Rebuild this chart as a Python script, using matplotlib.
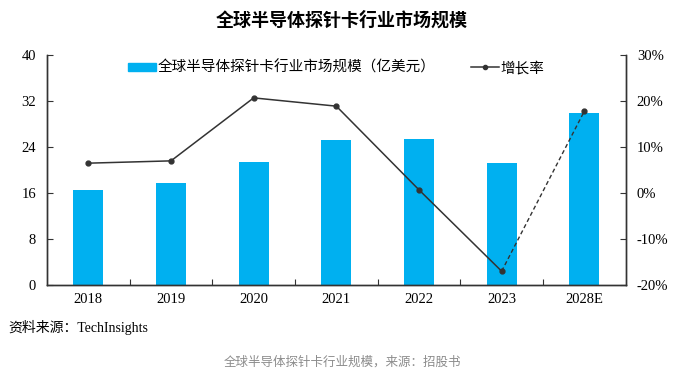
import matplotlib
matplotlib.use("Agg")
import matplotlib.pyplot as plt
from matplotlib.lines import Line2D
from matplotlib.patches import Patch

categories = ["2018", "2019", "2020", "2021", "2022", "2023", "2028E"]
market_size = [16.5, 17.7, 21.4, 25.2, 25.4, 21.2, 29.9]
growth_rate = [6.5, 7.0, 20.7, 18.9, 0.7, -17.0, 17.8]
left_ticks = [0, 8, 16, 24, 32, 40]
right_ticks = [-20, -10, 0, 10, 20, 30]

cjk = ["Noto Sans CJK SC", "DejaVu Sans"]
serif = ["Liberation Serif", "Noto Sans CJK SC"]
plt.rcParams["font.family"] = serif

fig = plt.figure(figsize=(6.84, 3.75), dpi=100)
ax = fig.add_axes([0.0687, 0.24, 0.846, 0.613])
ax2 = ax.twinx()

x = list(range(len(categories)))
bar_color = "#00B0F0"
ax.bar(x, market_size, width=0.36, color=bar_color, zorder=2)
ax.set_ylim(0, 40)
ax.set_yticks(left_ticks)
ax.set_xlim(-0.5, len(categories) - 0.5)
ax.set_xticks([i + 0.5 for i in x[:-1]])
ax.set_xticklabels([])
ax.set_xticks(x, minor=True)
ax.set_xticklabels(categories, minor=True)
ax.tick_params(axis="x", which="major", direction="in", length=4, color="#333333")
ax.tick_params(axis="x", which="minor", length=0, labelsize=10.5, pad=6)
ax.tick_params(axis="y", direction="in", length=4, labelsize=10.5, color="#333333", pad=8)
ax.spines["top"].set_visible(False)

ax2.set_ylim(-20, 30)
ax2.set_yticks(right_ticks)
ax2.set_yticklabels([f"{t}%" for t in right_ticks])
ax2.tick_params(axis="y", direction="in", length=4, labelsize=10.5, color="#333333", pad=8)
ax2.spines["top"].set_visible(False)
for a in (ax, ax2):
    for s in ("left", "right", "bottom"):
        a.spines[s].set_color("#333333")
        a.spines[s].set_linewidth(1.0)

line_color = "#333333"
ax2.plot(x[:-1], growth_rate[:-1], color=line_color, lw=1.1, marker="o", ms=3.5, zorder=3)
ax2.plot(x[-2:], growth_rate[-2:], color=line_color, lw=1.0, ls=(0, (3, 2)), zorder=3)
ax2.plot(x[-1:], growth_rate[-1:], color=line_color, marker="o", ms=3.5, ls="none", zorder=3)

handles = [Patch(color=bar_color), Line2D([], [], color=line_color, lw=1.1, marker="o", ms=3)]
labels = ["全球半导体探针卡行业市场规模（亿美元）", "增长率"]
ax.legend(handles, labels, loc="upper center", bbox_to_anchor=(0.5, 1.02), ncol=2, frameon=False,
          prop={"family": cjk, "size": 10.5}, handlelength=1.9, handleheight=0.5, handletextpad=0.15,
          columnspacing=2.4, borderaxespad=0.3)

fig.text(0.5, 0.947, "全球半导体探针卡行业市场规模", ha="center", va="center",
         fontsize=13, fontweight="bold", family=cjk)
fig.text(0.012, 0.128, "资料来源：TechInsights", ha="left", va="center", fontsize=10, family=serif)
fig.text(0.5, 0.035, "全球半导体探针卡行业规模，来源：招股书", ha="center", va="center",
         fontsize=9, color="#8c8c8c", family=cjk)

fig.savefig("out.png", dpi=100)
